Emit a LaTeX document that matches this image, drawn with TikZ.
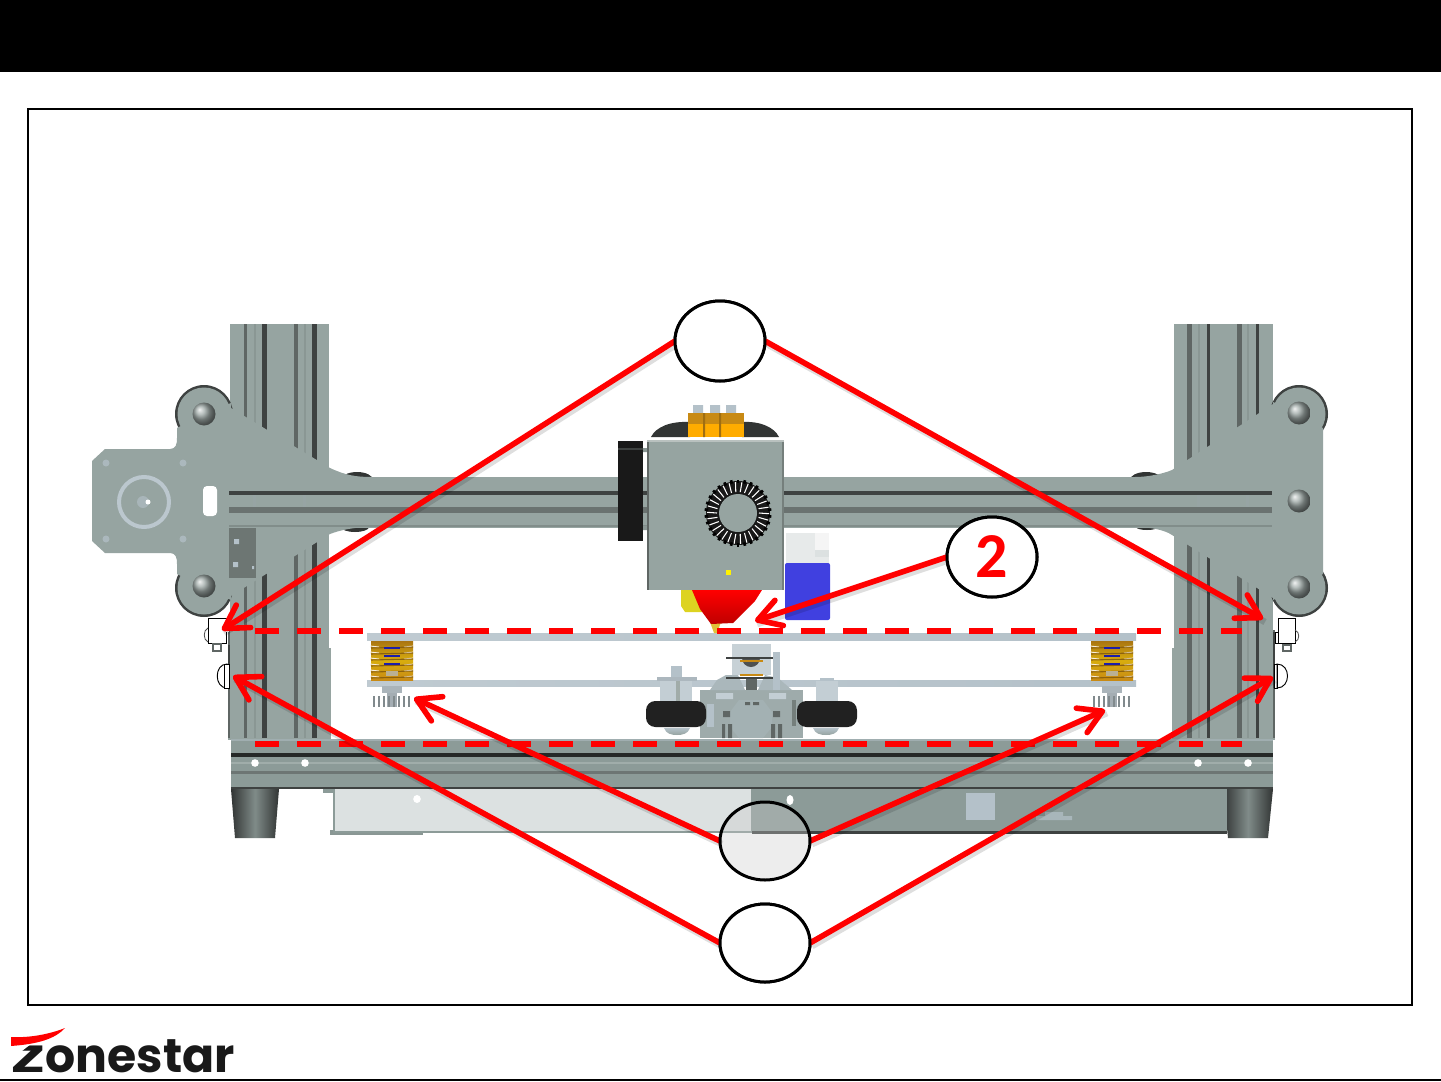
\documentclass[tikz,border=0pt]{standalone}
\usepackage{fontspec}
\setmainfont{Carlito}
\newfontfamily\logofont{Poppins}
\usetikzlibrary{arrows.meta,shapes.geometric}
\definecolor{fr}{HTML}{96A4A1}
\definecolor{frb}{HTML}{8C9B98}
\definecolor{gdk}{HTML}{5F6664}
\definecolor{gdr}{HTML}{3E4241}
\definecolor{gth}{HTML}{8A9794}
\definecolor{plt}{HTML}{B4C1C9}
\definecolor{lit}{HTML}{DCE1E1}
\definecolor{spr}{HTML}{C88A14}
\definecolor{hot}{HTML}{FF0000}
\definecolor{bottleblue}{HTML}{4040E0}
\tikzset{
  callout/.style={ellipse,draw=black,line width=2.25pt,fill=white,minimum width=67.5pt,minimum height=58.5pt,inner sep=0pt,outer sep=0pt},
  leader/.style={draw=hot,line width=4.2pt,-{Straight Barb[length=17pt,width=20pt,line width=4.2pt,round]}},
  leadershadow/.style={draw=black,opacity=.13,line width=5pt},
  redash/.style={draw=hot,line width=4.5pt,dash pattern=on 18pt off 13.5pt},
  bolt/.style={ball color=gth!85!white},
  sw/.style={draw=black,line width=.7pt,fill=white},
  foot/.style={left color=gdr!80!black,right color=gdr!80!black,middle color=fr!75!gdr}
}
\newcommand{\spring}[1]{%
  \begin{scope}[shift={(#1,0)}]
    \shade[top color=spr!85!black,bottom color=spr,middle color=spr!70!yellow] (0,641) rectangle (42,680);
    \foreach \yy in {646,652,658,664,670,676}{
      \draw[white!85!spr,line width=.7pt] (-1,\yy) -- (8,\yy+1);
      \draw[white!85!spr,line width=.7pt] (33,\yy+1) -- (43,\yy);
      \draw[spr!70!black,line width=.8pt] (0,\yy+2) -- (42,\yy+1);
    }
    \foreach \yy in {647,655,663}{\fill[blue!55!gdr] (13,\yy) rectangle (29,\yy+2);}
    \fill[plt!70!spr] (15,671) rectangle (27,676);
    \fill[plt!80!gray] (11,686) rectangle (31,693);
    \fill[plt!70!gray] (16,693) rectangle (26,707);
    \foreach \xx in {2,7,12,17,22,27,32,37}{\fill[gdk!60!plt] (\xx,696) rectangle (\xx+1.6,707);}
  \end{scope}}
\begin{document}
\begin{tikzpicture}[x=0.75pt,y=-0.75pt]
\useasboundingbox (0,0) rectangle (1441,1081);
\clip (0,0) rectangle (1441,1081);
% header and frame
\fill[black] (0,0) rectangle (1441,72.5);
\draw[black,line width=1.3pt,fill=white] (28,109) rectangle (1412,1005);
\draw[black,line width=.9pt] (0,1080) -- (1441,1080);

% dark wheels behind beam
\fill[gdr!80!black] (357,480) ellipse (16 and 8);
\fill[gdr!80!black] (355,527) ellipse (14 and 5);
\fill[gdr!80!black] (1146,480) ellipse (16 and 8);
\fill[gdr!80!black] (1147,527) ellipse (11 and 3);

% vertical extrusions
\fill[fr] (230,324) rectangle (329,740);
\fill[fr] (228,620) rectangle (329,740);
\fill[fr] (329,648) rectangle (331,740);
\fill[gdk] (228,620) rectangle (230,738);
\fill[fr] (1174,324) rectangle (1273,740);
\fill[fr] (1174,630) rectangle (1275,740);
\fill[fr] (1172,648) rectangle (1174,740);
\fill[gdk] (1273,630) rectangle (1275,738);
\foreach \xx/\a/\b/\w/\c in {244/422/580/3/gdk,254/430/570/1.5/gth,262/438/562/5/gdr,294/456/545/3.5/gdk,304/460/540/1.5/gth,312/465/537/5/gdr}{
  \fill[\c] (\xx,324) rectangle (\xx+\w,\a);
  \fill[\c] (\xx,\b) rectangle (\xx+\w,738);
}
\foreach \xx/\a/\b/\w/\c in {1187/463/539/4.5/gdk,1198/458/544/1.5/gth,1207/454/548/3/gdr,1237/436/566/4.5/gdk,1247/428/574/1.5/gth,1256/420/582/3/gdr}{
  \fill[\c] (\xx,324) rectangle (\xx+\w,\a);
  \fill[\c] (\xx,\b) rectangle (\xx+\w,738);
}

% left bracket and right bracket lobes
\fill[gdr] (204,414) circle (29) (204,588) circle (29);
\fill[gdr] (1299,414) circle (29) (1299,588) circle (29);
\fill[fr] (204,414) circle (26.5) (204,588) circle (26.5);
\fill[fr] (1299,414) circle (26.5) (1299,588) circle (26.5);
% left plate
\fill[fr] (92,461) -- (105,449) -- (170,449) .. controls (176,449) and (177,444) .. (177,438)
  -- (177,428) -- (204,414) -- (231,403) -- (231,408) -- (330,468) .. controls (345,475) and (355,477) .. (372,477)
  -- (372,527) .. controls (355,527) and (340,530) .. (330,534) -- (231,596) -- (231,600) -- (204,588) -- (177,574)
  -- (177,564) .. controls (177,558) and (176,553) .. (170,553) -- (105,553) -- (92,541) -- cycle;
% right plate
\fill[fr] (1323,428) -- (1323,574) -- (1299,588) -- (1273,600) -- (1273,598) -- (1172,535) .. controls (1165,530) and (1150,527) .. (1135,527)
  -- (1135,477) .. controls (1150,477) and (1165,473) .. (1172,470) -- (1273,404) -- (1273,402) -- (1299,414) -- cycle;
% horizontal beam
\fill[fr] (330,477) rectangle (1172,528);
\fill[gdr] (229,491) rectangle (1272,495);
\fill[gdk!80!fr] (229,507) rectangle (1272,513);
\fill[gth!80!gdk] (229,525) rectangle (1272,527);
\foreach \xx in {254,304,1198,1247}{\fill[gth!70!plt] (\xx-1.5,495) rectangle (\xx+1.5,507);}

% motor plate details
\draw[plt!90!white,line width=3pt] (144,502) circle (25);
\fill[plt!60!fr] (143,502) circle (6);
\fill[white] (148,502) circle (2.5);
\foreach \xx/\yy in {106/463,183/463,106/539,183/539}{\fill[plt!70!fr] (\xx,\yy) circle (3.5);}
\fill[white,rounded corners=3pt] (203,486) rectangle (217,516);
\fill[gdk!75!fr] (229,528) rectangle (256,578);
\fill[plt] (234,539) rectangle (239,544) (233,562) rectangle (238,567) (252,566) rectangle (254,569);

% bolts
\foreach \xx/\yy in {204/414,204/586,1299/413,1299/501,1299/587}{\shade[bolt] (\xx,\yy) circle (11.5);}

% bottom extrusion
\fill[frb] (231,740) rectangle (1273,788);
\fill[plt!50!frb] (231,739) rectangle (1273,741);
\fill[gdr!60!black] (231,753) rectangle (1273,757);
\fill[gdk!70!frb] (231,771) rectangle (1273,774);
\fill[fr!90!white] (231,762) rectangle (1273,763.5);
\fill[gdr] (231,787) rectangle (1273,789);
\foreach \xx in {255,305,1198,1248}{\fill[white] (\xx,763) circle (3.8);}

% feet
\shade[foot] (231,789) -- (279,789) -- (275,838) -- (235,838) -- cycle;
\shade[foot] (1223,789) -- (1273,789) -- (1268,838) -- (1228,838) -- cycle;

% power box
\fill[frb] (323,789) rectangle (335,793);
\fill[gth] (330,830) rectangle (423,835);
\draw[frb,line width=1.2pt,fill=lit] (334,789) -- (334,832) -- (752,832) -- (752,789);
\fill[frb] (752,789) rectangle (1227,832);
\fill[gdr] (752,831) rectangle (1227,834);
\fill[white] (417,799) ellipse (3.8 and 4);
\fill[white] (790,800) ellipse (3.5 and 5);
\fill[plt] (966,793) rectangle (995,820);
\fill[plt!70!frb] (1036,816) rectangle (1072,820) (1045,812) rectangle (1063,816);

% bed
\shade[left color=plt!85!white,right color=plt] (367,633) rectangle (1136,640);
\shade[left color=plt!85!white,right color=plt] (367,680) rectangle (1136,686);
\spring{371}
\spring{1091}

% Y carriage
\fill[fr!75!plt] (700,690) rectangle (803,738);
\fill[plt!65!fr] (726,675) -- (738,675) -- (745,690) -- (710,690) -- (717,680) -- cycle;
\fill[plt!65!fr] (765,675) -- (778,678) -- (792,690) -- (758,690) -- cycle;
\fill[fr!55!plt] (739,700) -- (763,700) -- (772,712) -- (772,727) -- (763,738) -- (739,738) -- (730,727) -- (730,712) -- cycle;
\fill[gdk] (746,677) rectangle (757,690);
\fill[plt!75!white] (732,644) rectangle (771,675);
\fill[gdr!75!gray] (742,658) arc[start angle=180,end angle=0,radius=9];
\draw[gdr,line width=.8pt] (726,658) -- (776,658) (726,678) -- (776,678);
\draw[spr,line width=1.2pt] (740,661) -- (763,661) (740,675) -- (763,675);
\fill[plt] (773,652) rectangle (780,690);
\fill[plt!80!white] (716,693) rectangle (733,699) (769,693) rectangle (786,699);
\fill[gdk] (745,702) rectangle (750,705) (753,702) rectangle (759,705);
\fill[gdk] (723,711) rectangle (730,717) (773,711) rectangle (780,717);
\fill[gdk] (722,724) rectangle (725,738) (728,724) rectangle (732,738);
\fill[gdk] (771,724) rectangle (775,738) (778,724) rectangle (782,738);
\fill[plt] (707,704) rectangle (714,727);
\fill[gdk!60!fr] (792,700) rectangle (796,726);
% wheels
\fill[plt] (671,666) rectangle (682,680);
\fill[plt!85!gray] (657,677) rectangle (697,681);
\fill[plt!80!white] (660,681) rectangle (692,701);
\fill[gth!80!white] (676,681) rectangle (680,701);
\fill[plt!80!white] (816,681) rectangle (838,701);
\fill[plt] (820,678) rectangle (834,681);
\shade[top color=plt,bottom color=fr] (664,728) -- (690,728) .. controls (688,734) and (682,735) .. (677,735) .. controls (672,735) and (666,734) .. (664,728);
\shade[top color=plt,bottom color=fr] (813,728) -- (839,728) .. controls (837,734) and (831,735) .. (826,735) .. controls (821,735) and (815,734) .. (813,728);
\fill[black!87,rounded corners=7pt] (646,701) rectangle (706,727);
\fill[black!87,rounded corners=7pt] (797,701) rectangle (857,727);

% extruder
\fill[gdr!80!black] (651,437) .. controls (656,427) and (670,421) .. (690,422) -- (690,437) -- cycle;
\fill[gdr!80!black] (779,437) .. controls (774,427) and (760,421) .. (742,422) -- (742,437) -- cycle;
\fill[plt] (693,405) rectangle (703,414) (710,405) rectangle (720,414) (726,405) rectangle (736,414);
\fill[orange!65!yellow] (688,413) rectangle (744,437);
\fill[spr] (688,413) rectangle (744,424);
\fill[spr!80!black] (703,413) rectangle (705,437) (719,413) rectangle (721,437);
\fill[black!90] (618,441) rectangle (643,541);
\fill[gdr] (618,448) rectangle (643,450);
\fill[gth] (643,448) rectangle (647,452) (643,526) rectangle (647,530);
% bottle
\fill[lit!70!white] (786,533) rectangle (829,563);
\fill[white!92!gray] (815,533) rectangle (829,550);
\fill[lit] (815,550) rectangle (829,557);
\fill[bottleblue,rounded corners=1.5pt] (785,563) rectangle (830,620);
% hot end
\fill[yellow!85!black] (681,590) -- (700,590) -- (702,612) -- (685,612) -- (681,606) -- cycle;
\fill[yellow!50!brown] (710,622) -- (721,622) -- (717,633) -- (714,633) -- cycle;
\shade[top color=red,bottom color=red!75!black] (692,590) -- (762,590) -- (755,601) -- (733,623) -- (711,624) -- (700,609) -- cycle;
% carriage box
\fill[fr] (647,441) rectangle (784,590);
\fill[gdk] (647,441) rectangle (649,590);
\fill[gdk!60!fr] (782,441) rectangle (784,590);
\fill[gth!60!white] (647,440) rectangle (784,442);
\fill[yellow] (726,570) rectangle (731,575);
% fan ring
\fill[black!90] (738,513) circle (32);
\foreach \aa in {0,12,...,348}{
  \draw[white,line width=.8pt] (738,513) ++(\aa:21) -- ++(\aa+4:10);
  \draw[black,line width=2pt] (738,513) ++(\aa+6:30) -- ++(\aa+6:3.5);
}
\fill[fr] (738,513) circle (19);

% micro switches
\fill[gdr] (228,645) rectangle (230,688);
\draw[sw] (208,618) rectangle (226,643);
\draw[black!70,line width=.6pt] (208,628) .. controls (203,630) and (203,640) .. (208,642);
\draw[gdk,line width=1pt] (213,644) rectangle (221,651);
\fill[white] (226,625) rectangle (229,632);
\draw[sw] (227,664) .. controls (214,664) and (214,688) .. (227,688) -- cycle;
\draw[sw] (224,664) rectangle (229,688);
\fill[gdr] (1273,632) rectangle (1275,688);
\draw[sw] (1278,618) rectangle (1295,643);
\draw[black!70,line width=.6pt] (1295,630) .. controls (1300,632) and (1300,640) .. (1295,642);
\draw[gdk,line width=1pt] (1283,645) rectangle (1291,651);
\draw[black,line width=.7pt] (1275,632) rectangle (1278,643);
\draw[sw] (1277,664) .. controls (1291,664) and (1291,688) .. (1277,688) -- cycle;
\draw[black,line width=.7pt] (1274,664) rectangle (1277,688);

% logo
\node[name=logo,anchor=base west,inner sep=0pt,font=\logofont\bfseries\fontsize{35.5}{35.5}\selectfont,text=black!90] at (10,1072) {\scalebox{1.25}[0.8]{Z}onestar};
\fill[white] (8,1044) -- (31,1044) -- (9,1061) -- cycle;
\fill[hot] (11,1037) .. controls (30,1038) and (50,1034) .. (65,1028) .. controls (55,1039) and (38,1044) .. (11,1046) -- cycle;

% red dashed levels
\coordinate (dashAL) at (255,631);
\coordinate (dashAR) at (1242,631);
\coordinate (dashBL) at (255,744);
\coordinate (dashBR) at (1242,744);
\draw[redash] (dashAL) -- (dashAR);
\draw[redash] (dashBL) -- (dashBR);

% callouts
\node[callout,minimum width=67.5pt,minimum height=60pt] (top) at (720,341) {};
\node[callout,minimum width=67.5pt,minimum height=60pt] (two) at (992,557) {};
\node[callout,draw=none,fill=none] (mid) at (765,841) {};
\node[callout] (bot) at (765,943) {};

\coordinate (t1) at (222,630);
\coordinate (t2) at (1263,619);
\coordinate (t3) at (755,621);
\coordinate (m1) at (414,698);
\coordinate (m2) at (1105,710);
\coordinate (b1) at (233,676);
\coordinate (b2) at (1273,677);

% soft shadows of leaders
\foreach \s/\e in {top.west/t1,top.east/t2,two.west/t3,mid.west/m1,mid.east/m2,bot.west/b1,bot.east/b2}{
  \draw[leadershadow] ([shift={(2,3)}]\s) -- ([shift={(2,3)}]\e);
}
\draw[leader] (top.west) -- (t1);
\draw[leader] (top.east) -- (t2);
\draw[leader] (two.west) -- (t3);
\draw[leader] (mid.west) -- (m1);
\draw[leader] (mid.east) -- (m2);
\draw[leader] (bot.west) -- (b1);
\draw[leader] (bot.east) -- (b2);

% redraw callouts above the leaders
\node[callout,minimum width=67.5pt,minimum height=60pt] at (top) {};
\node[callout,minimum width=67.5pt,minimum height=60pt] at (two) {\fontsize{48}{48}\selectfont\bfseries\textcolor{hot}{2}};
\fill[black!20,opacity=.34] (mid) ellipse (44 and 38);
\draw[black,line width=2.25pt] (mid) ellipse (45 and 39);
\node[callout] at (bot) {};
\end{tikzpicture}
\end{document}
